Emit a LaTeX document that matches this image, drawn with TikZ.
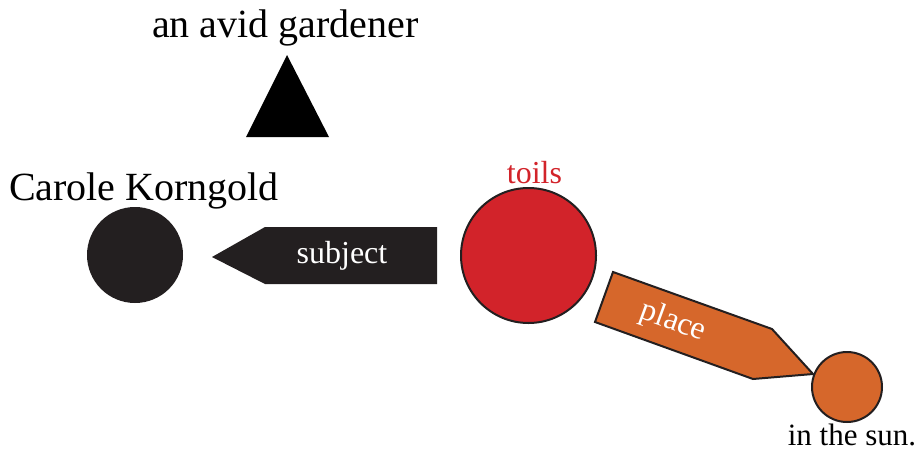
\documentclass[tikz,border=0pt]{standalone}
\usepackage{fontspec}
\setmainfont{Liberation Serif}
\usetikzlibrary{arrows.meta}
\definecolor{tred}{HTML}{D2232A}
\definecolor{torange}{HTML}{D6672B}
\definecolor{tblack}{HTML}{231F20}

\begin{document}
\begin{tikzpicture}[x=1pt,y=-1pt]
        \useasboundingbox (0,0) rectangle (921,453);

        % circles
        \node[shape=circle, minimum size=96pt, inner sep=0pt, fill=tblack] (A) at (135,255) {};
        \node[shape=circle, minimum size=135pt, inner sep=0pt, fill=tred, draw=tblack, line width=2pt] (B) at (528.5,255.5) {};
        \node[shape=circle, minimum size=70pt, inner sep=0pt, fill=torange, draw=tblack, line width=2pt] (C) at (847,387) {};

        % triangle
        \fill[black] (287,55) -- (329,137) -- (246,137) -- cycle;

        % arrows
        \fill[tblack] (212,257) -- (265,227) -- (437,227) -- (437,284) -- (265,284) -- cycle;
        \draw[fill=torange, draw=tblack, line width=2pt, line join=miter] (613,272) -- (772,329) -- (813,374) -- (753,379) -- (595,322) -- cycle;

        % labels
        \node[anchor=base, inner sep=0pt, font=\fontsize{40}{40}\selectfont] (D) at (285.5,37) {an avid gardener};
        \node[anchor=base, inner sep=0pt, font=\fontsize{40}{40}\selectfont] (E) at (144,200) {Carole Korngold};
        \node[anchor=base, inner sep=0pt, text=white, font=\fontsize{32}{32}\selectfont] (F) at (342,263) {subject};
        \node[anchor=base, inner sep=0pt, text=tred, font=\fontsize{32}{32}\selectfont] (G) at (534.5,183) {toils};
        \node[inner sep=0pt, rotate=-20, text=white, font=\fontsize{32}{32}\selectfont] (H) at (673,322) {place};
        \node[anchor=base, inner sep=0pt, font=\fontsize{31}{31}\selectfont] (I) at (852,445) {in the sun.};
    \end{tikzpicture}
\end{document}
